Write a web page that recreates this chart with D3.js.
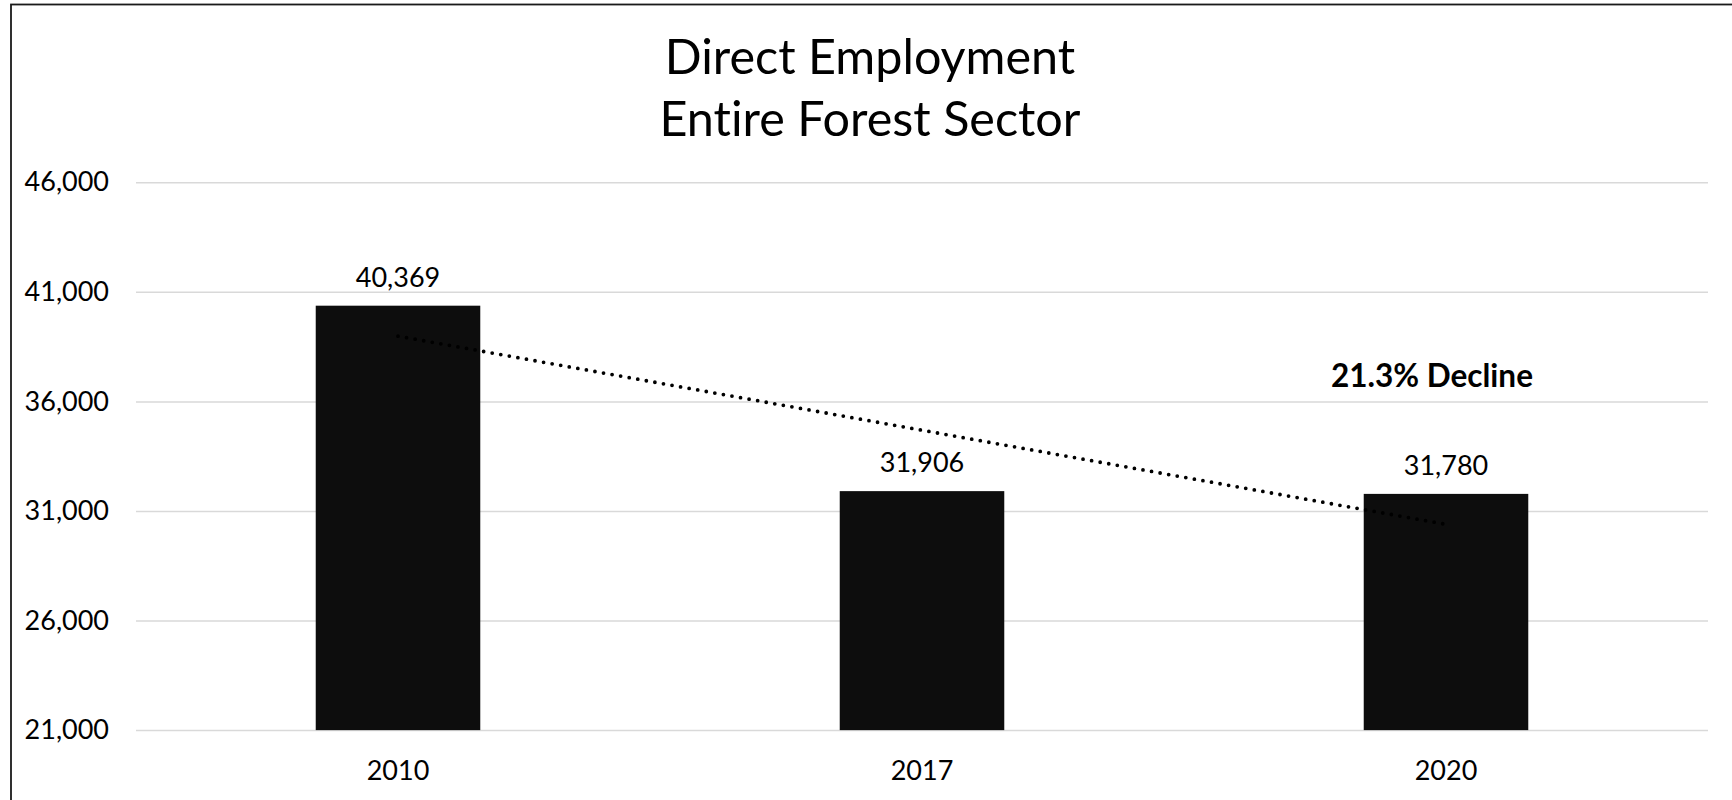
<!DOCTYPE html>
<html>
<head>
<meta charset="utf-8">
<script src="https://cdn.jsdelivr.net/npm/d3@7"></script>
<style>
  html, body { margin: 0; padding: 0; background: #fff; }
  svg { display: block; font-family: Lato, "Open Sans", sans-serif; font-variant-ligatures: none; }
</style>
</head>
<body>
<svg id="chart" width="1732" height="800"></svg>
<script>
// Direct employment in the forest sector, by year
const years = ["2010", "2017", "2020"];
const employment = [40369, 31906, 31780];
const yTicks = [21000, 26000, 31000, 36000, 41000, 46000];
const titleLines = ["Direct Employment", "Entire Forest Sector"];
const noteText = "21.3% Decline";

const svg = d3.select("#chart");
const W = 1732, H = 800;
const plot = { left: 136, right: 1708, top: 182.3, bottom: 730.1 };

// outer frame (runs past the right and bottom edges)
svg.append("rect")
  .attr("x", 11).attr("y", 4.5)
  .attr("width", W + 20).attr("height", H + 20)
  .attr("fill", "#fff").attr("stroke", "#1a1a1a").attr("stroke-width", 1.8);

const x = d3.scaleBand()
  .domain(years)
  .range([plot.left, plot.right])
  .paddingInner(0.686)
  .paddingOuter(0.343);

const y = d3.scaleLinear()
  .domain([21000, 46000])
  .range([plot.bottom, plot.top]);

const fmt = d3.format(",");

// gridlines + tick labels
const yAxis = d3.axisLeft(y)
  .tickValues(yTicks)
  .tickFormat(fmt)
  .tickSize(-(plot.right - plot.left))
  .tickPadding(27);

const gy = svg.append("g")
  .attr("transform", `translate(${plot.left},0)`)
  .call(yAxis);
gy.select(".domain").remove();
gy.selectAll(".tick line").attr("stroke", "#d9d9d9").attr("stroke-width", 1.5);
gy.selectAll(".tick text")
  .attr("fill", "#000")
  .style("font-size", "27px")
  .style("font-family", "Lato, sans-serif");

// bars
svg.append("g").selectAll("rect")
  .data(years)
  .join("rect")
  .attr("x", d => x(d))
  .attr("width", x.bandwidth())
  .attr("y", (d, i) => y(employment[i]))
  .attr("height", (d, i) => y(21000) - y(employment[i]))
  .attr("fill", "#0d0d0d");

// value labels
svg.append("g").selectAll("text")
  .data(years)
  .join("text")
  .attr("x", d => x(d) + x.bandwidth() / 2)
  .attr("y", (d, i) => y(employment[i]) - 19)
  .attr("text-anchor", "middle")
  .style("font-size", "27px")
  .text((d, i) => fmt(employment[i]));

// category labels
svg.append("g").selectAll("text")
  .data(years)
  .join("text")
  .attr("x", d => x(d) + x.bandwidth() / 2)
  .attr("y", 780)
  .attr("text-anchor", "middle")
  .style("font-size", "27px")
  .text(d => d);

// linear trendline (least squares over category index)
const idx = years.map((d, i) => i + 1);
const mx = d3.mean(idx), my = d3.mean(employment);
const slope = d3.sum(idx, (v, i) => (v - mx) * (employment[i] - my)) /
              d3.sum(idx, v => (v - mx) ** 2);
const intercept = my - slope * mx;
const trend = years.map((d, i) => ({ cx: x(d) + x.bandwidth() / 2, v: intercept + slope * idx[i] }));

svg.append("path")
  .datum([trend[0], trend[trend.length - 1]])
  .attr("d", d3.line().x(d => d.cx).y(d => y(d.v)))
  .attr("fill", "none")
  .attr("stroke", "#000")
  .attr("stroke-width", 3.8)
  .attr("stroke-linecap", "round")
  .attr("stroke-dasharray", "0 8.7");

// annotation
svg.append("text")
  .attr("x", 1432)
  .attr("y", 387)
  .attr("text-anchor", "middle")
  .style("font-size", "31.5px")
  .style("font-weight", "bold")
  .text(noteText);

// title
svg.append("g").selectAll("text")
  .data(titleLines)
  .join("text")
  .attr("x", 870)
  .attr("y", (d, i) => 74 + i * 62)
  .attr("text-anchor", "middle")
  .style("font-size", "48.5px")
  .text(d => d);
</script>
</body>
</html>
